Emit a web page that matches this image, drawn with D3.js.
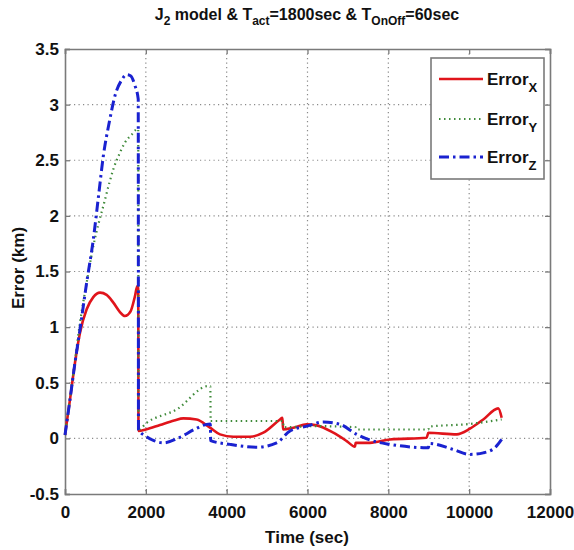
<!DOCTYPE html>
<html><head><meta charset="utf-8">
<script src="https://cdn.jsdelivr.net/npm/d3@7"></script>
<style>body{margin:0;background:#fff}svg{display:block}text{font-family:"Liberation Sans",Arial,sans-serif;font-weight:bold;fill:#111}</style>
</head><body><svg id="c" width="574" height="550"></svg>
<script>
const xTicks=[0,2000,4000,6000,8000,10000,12000];
const yTicks=[-0.5,0,0.5,1,1.5,2,2.5,3,3.5];
const yTickLabels=["-0.5","0","0.5","1","1.5","2","2.5","3","3.5"];
const seriesNames=["X","Y","Z"];
const tX=[0,124,247,371,536,700,866,1030,1196,1350,1484,1620,1732,1790,1812,1818,2000,2350,2700,2928,3258,3587,3835,4165,4577,4907,5319,5380,5395,5649,5980,6227,6639,6969,7175,7190,7546,8040,8948,8990,9690,10020,10349,10720,10804];
const vX=[0.03,0.35,0.68,0.95,1.16,1.27,1.31,1.29,1.22,1.14,1.10,1.14,1.28,1.37,1.37,0.066,0.08,0.12,0.16,0.18,0.17,0.096,0.036,0.015,0.015,0.051,0.17,0.186,0.08,0.096,0.126,0.117,0.051,-0.024,-0.075,-0.04,-0.04,-0.01,0.006,0.05,0.036,0.087,0.17,0.27,0.186];
const tY=[0,124,247,371,536,701,830,949,1100,1196,1350,1484,1649,1790,1812,1818,2020,2763,3546,3596,3604,4500,5350,5395,5405,6200,7190,7210,8990,9010,10020,10804];
const vY=[0.03,0.36,0.70,1.04,1.40,1.73,1.93,2.09,2.30,2.42,2.56,2.66,2.73,2.78,2.78,0.08,0.14,0.26,0.47,0.47,0.156,0.156,0.156,0.156,0.10,0.11,0.10,0.08,0.08,0.105,0.13,0.17];
const tZ=[0,124,247,371,536,701,830,949,1100,1237,1400,1526,1620,1732,1812,1818,2000,2200,2433,2845,3200,3505,3596,3604,4082,4742,5237,5567,5980,6392,6804,7217,7628,8040,8866,8990,9010,9607,10020,10349,10638,10804];
const vZ=[0.03,0.35,0.68,0.98,1.40,1.79,2.18,2.54,2.85,3.08,3.22,3.27,3.26,3.17,3.05,0.08,0.02,-0.02,-0.04,0.01,0.08,0.126,0.13,-0.02,-0.054,-0.08,-0.04,0.066,0.11,0.147,0.126,0.036,-0.024,-0.054,-0.084,-0.085,-0.045,-0.1,-0.144,-0.13,-0.084,-0.01];

const svg=d3.select("#c");
const L=65,R=550,T=49,B=494;
const x=d3.scaleLinear().domain([0,12000]).range([L,R]);
const y=d3.scaleLinear().domain([-0.5,3.5]).range([B,T]);
const axisCol="#7a7a7a";

// grid
svg.append("g").selectAll("line").data(xTicks.slice(1,-1)).join("line")
  .attr("x1",d=>x(d)).attr("x2",d=>x(d)).attr("y1",T).attr("y2",B)
  .attr("stroke","#8a8a8a").attr("stroke-width",1.2).attr("stroke-dasharray","1.2,3.3");
svg.append("g").selectAll("line").data(yTicks.slice(1,-1)).join("line")
  .attr("y1",d=>y(d)).attr("y2",d=>y(d)).attr("x1",L).attr("x2",R)
  .attr("stroke","#8a8a8a").attr("stroke-width",1.2).attr("stroke-dasharray","1.2,3.3");

// axes
const gx=svg.append("g").attr("transform",`translate(0,${B})`)
  .call(d3.axisBottom(x).tickValues(xTicks).tickSize(-5).tickPadding(12).tickFormat(d3.format("d")));
const gxt=svg.append("g").attr("transform",`translate(0,${T})`)
  .call(d3.axisTop(x).tickValues(xTicks).tickSize(-5).tickFormat(""));
const gy=svg.append("g").attr("transform",`translate(${L},0)`)
  .call(d3.axisLeft(y).tickValues(yTicks).tickSize(-5).tickPadding(6).tickFormat((d,i)=>yTickLabels[i]));
const gyr=svg.append("g").attr("transform",`translate(${R},0)`)
  .call(d3.axisRight(y).tickValues(yTicks).tickSize(-5).tickFormat(""));
[gx,gxt,gy,gyr].forEach(g=>{
  g.select(".domain").attr("stroke",axisCol).attr("stroke-width",1.6);
  g.selectAll(".tick line").attr("stroke",axisCol).attr("stroke-width",1.3);
  g.selectAll("text").attr("font-size",17).attr("font-family","Liberation Sans, Arial").attr("font-weight","bold").attr("fill","#111");
});

// lines
const line=d3.line().curve(d3.curveMonotoneX).x(d=>x(d[0])).y(d=>y(d[1]));
const zip=(t,v)=>t.map((d,i)=>[d,v[i]]);
svg.append("path").datum(zip(tX,vX)).attr("d",line).attr("fill","none").attr("stroke","#e0141b").attr("stroke-width",2.6).attr("stroke-linejoin","round");
svg.append("path").datum(zip(tY,vY)).attr("d",line).attr("fill","none").attr("stroke","#3f8a3a").attr("stroke-width",2.2).attr("stroke-dasharray","1.5,3.5");
svg.append("path").datum(zip(tZ,vZ)).attr("d",line).attr("fill","none").attr("stroke","#1a22d0").attr("stroke-width",3).attr("stroke-dasharray","10,4,2.5,4");

// legend
const lg=svg.append("g");
lg.append("rect").attr("x",431).attr("y",58).attr("width",113).attr("height",121).attr("fill","#fff").attr("stroke",axisCol).attr("stroke-width",1.6);
const styles=[{c:"#e0141b",w:2.6,da:null},{c:"#3f8a3a",w:2.2,da:"1.5,3.5"},{c:"#1a22d0",w:3,da:"10,4,2.5,4"}];
const ly=[79,119,157];
seriesNames.forEach((s,i)=>{
  lg.append("line").attr("x1",439).attr("x2",483).attr("y1",ly[i]).attr("y2",ly[i])
    .attr("stroke",styles[i].c).attr("stroke-width",styles[i].w).attr("stroke-dasharray",styles[i].da);
  const t=lg.append("text").attr("x",487).attr("y",ly[i]+6).attr("font-size",17);
  t.append("tspan").text("Error");
  t.append("tspan").attr("dy",7).attr("font-size",13).text(s);
});

// title
const tt=svg.append("text").attr("x",307).attr("y",20).attr("text-anchor","middle").attr("font-size",16);
tt.append("tspan").text("J");
tt.append("tspan").attr("dy",5).attr("font-size",12).text("2");
tt.append("tspan").attr("dy",-5).text(" model & T");
tt.append("tspan").attr("dy",5).attr("font-size",12).text("act");
tt.append("tspan").attr("dy",-5).text("=1800sec & T");
tt.append("tspan").attr("dy",5).attr("font-size",12).text("OnOff");
tt.append("tspan").attr("dy",-5).text("=60sec");

// axis labels
svg.append("text").attr("x",307).attr("y",543).attr("text-anchor","middle").attr("font-size",17).text("Time (sec)");
svg.append("text").attr("transform","translate(24,268) rotate(-90)").attr("text-anchor","middle").attr("font-size",17).text("Error (km)");
</script></body></html>
